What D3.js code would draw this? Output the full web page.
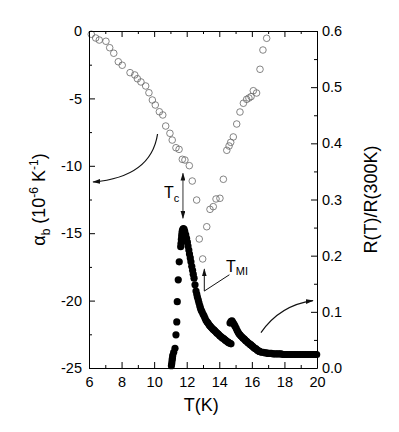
<!DOCTYPE html>
<html>
<head>
<meta charset="utf-8">
<script src="https://cdn.jsdelivr.net/npm/d3@7"></script>
<style>
  body { margin: 0; background: #fff; }
  text { font-family: "Liberation Sans", Arial, sans-serif; }
</style>
</head>
<body>
<script>
// thermal expansion alpha_b (open circles, left axis)
const alphaT = [6.14, 6.41, 6.63, 7.04, 7.27, 7.52, 7.80, 8.04, 8.52, 8.81, 8.97, 9.19, 9.48, 9.68, 9.89,
  10.07, 10.32, 10.53, 10.71, 10.97, 11.11, 11.34, 11.53, 11.73, 11.89, 12.16, 12.34, 12.61, 12.77, 12.98,
  13.23, 13.43, 13.63, 13.80, 14.04, 14.25, 14.46, 14.60, 14.70, 14.86, 15.07, 15.27, 15.48, 15.68, 15.82,
  15.95, 16.09, 16.29, 16.50, 16.68, 16.91];
const alphaVal = [-0.24, -0.52, -0.67, -0.76, -1.24, -1.65, -2.28, -2.54, -3.09, -3.26, -3.54, -3.78, -4.08, -4.58, -5.12,
  -5.49, -5.99, -6.23, -7.05, -7.59, -8.09, -8.66, -8.78, -9.52, -9.57, -9.99, -11.13, -12.54, -15.43, -16.91,
  -14.52, -13.23, -13.03, -12.46, -12.41, -11.00, -8.85, -8.53, -8.26, -7.86, -6.90, -6.01, -5.36, -5.07, -4.97,
  -4.87, -4.43, -4.60, -2.84, -1.41, -0.54];

// resistance R(T)/R(300K) (filled circles, right axis)
const resT = [11.06, 11.08, 11.10, 11.12, 11.14, 11.20, 11.28, 11.34, 11.39, 11.42, 11.48, 11.54, 11.63,
  11.65, 11.67, 11.69, 11.71, 11.73, 11.76, 11.80, 11.84, 11.88,
  11.94, 11.99, 12.04, 12.08, 12.13, 12.17, 12.22, 12.26, 12.31, 12.36, 12.40, 12.45, 12.51, 12.57, 12.62,
  12.66, 12.71, 12.75, 12.80, 12.84, 12.89, 12.94, 13.00, 13.06, 13.12, 13.18, 13.25, 13.31, 13.37, 13.43,
  13.49, 13.55, 13.61, 13.67, 13.73, 13.80, 13.86, 13.92, 13.98, 14.04, 14.10, 14.17, 14.23, 14.29, 14.35,
  14.41, 14.48, 14.54, 14.60, 14.66, 14.72,
  14.66, 14.72, 14.78, 14.84, 14.90, 14.96, 15.03, 15.09, 15.15, 15.21, 15.27, 15.33, 15.40, 15.46, 15.52,
  15.58, 15.64, 15.70, 15.76, 15.82, 15.89, 15.95, 16.01, 16.07, 16.13, 16.19, 16.26, 16.32, 16.38, 16.44,
  16.50, 16.60, 16.70, 16.80, 16.90, 17.00, 17.10, 17.20, 17.30, 17.40, 17.50, 17.60, 17.70, 17.80, 17.90,
  18.00, 18.10, 18.20, 18.30, 18.40, 18.50, 18.60, 18.70, 18.80, 18.90, 19.00, 19.10, 19.20, 19.30, 19.40,
  19.50, 19.60, 19.70, 19.80, 19.90, 19.98];
const resVal = [0.004, 0.008, 0.013, 0.017, 0.022, 0.028, 0.035, 0.059, 0.082, 0.118, 0.157, 0.189, 0.216,
  0.222, 0.229, 0.235, 0.240, 0.244, 0.247, 0.248, 0.247, 0.243,
  0.237, 0.231, 0.224, 0.217, 0.210, 0.203, 0.196, 0.189, 0.181, 0.174, 0.167, 0.160, 0.148, 0.137, 0.131,
  0.126, 0.121, 0.116, 0.111, 0.107, 0.103, 0.100, 0.096, 0.093, 0.089, 0.085, 0.082, 0.080, 0.077, 0.075,
  0.073, 0.071, 0.069, 0.068, 0.066, 0.064, 0.062, 0.061, 0.059, 0.057, 0.056, 0.054, 0.053, 0.052, 0.050,
  0.049, 0.047, 0.046, 0.045, 0.044, 0.043,
  0.080, 0.083, 0.084, 0.081, 0.078, 0.075, 0.071, 0.067, 0.064, 0.061, 0.059, 0.057, 0.055, 0.053, 0.052,
  0.050, 0.048, 0.047, 0.045, 0.044, 0.042, 0.041, 0.039, 0.038, 0.036, 0.035, 0.034, 0.032, 0.031, 0.030,
  0.029, 0.028, 0.028, 0.027, 0.027, 0.026, 0.026, 0.026, 0.025, 0.025, 0.025, 0.025, 0.025, 0.025, 0.024,
  0.024, 0.024, 0.024, 0.024, 0.024, 0.024, 0.024, 0.024, 0.024, 0.024, 0.024, 0.024, 0.024, 0.024, 0.024,
  0.024, 0.024, 0.024, 0.024, 0.024, 0.024];

// tick values
const xTicks = [6, 8, 10, 12, 14, 16, 18, 20];
const xMinor = [7, 9, 11, 13, 15, 17, 19];
const yLTicks = [0, -5, -10, -15, -20, -25];
const yLMinor = [-2.5, -7.5, -12.5, -17.5, -22.5];
const yRTicks = [0, 0.1, 0.2, 0.3, 0.4, 0.5, 0.6];
const yRMinor = [0.05, 0.15, 0.25, 0.35, 0.45, 0.55];

const width = 399, height = 432;
const margin = ({top: 31, right: 82, bottom: 64, left: 89});

const x = d3.scaleLinear().domain([6, 20]).range([margin.left, width - margin.right]);
const yL = d3.scaleLinear().domain([-25, 0]).range([height - margin.bottom, margin.top]);
const yR = d3.scaleLinear().domain([0, 0.6]).range([height - margin.bottom, margin.top]);

const svg = d3.select("body").append("svg")
    .attr("width", width)
    .attr("height", height);

const defs = svg.append("defs");
defs.append("marker")
    .attr("id", "head")
    .attr("viewBox", "0 0 10 6")
    .attr("refX", 9).attr("refY", 3)
    .attr("markerWidth", 8).attr("markerHeight", 5)
    .attr("markerUnits", "userSpaceOnUse")
    .attr("orient", "auto-start-reverse")
  .append("path")
    .attr("d", "M0,0L10,3L0,6Z")
    .attr("fill", "#111");

// data
svg.append("g")
  .selectAll("circle")
  .data(alphaT.map((t, i) => [t, alphaVal[i]]))
  .join("circle")
    .attr("cx", d => x(d[0]))
    .attr("cy", d => yL(d[1]))
    .attr("r", 3.3)
    .attr("fill", "none")
    .attr("stroke", "#666")
    .attr("stroke-width", 0.8);

svg.append("g")
  .selectAll("circle")
  .data(resT.map((t, i) => [t, resVal[i]]))
  .join("circle")
    .attr("cx", d => x(d[0]))
    .attr("cy", d => yR(d[1]))
    .attr("r", 3.6)
    .attr("fill", "#000");

// axes
const bottomY = height - margin.bottom;
const rightX = width - margin.right;

const axisStyle = g => g
    .call(g => g.select(".domain").attr("stroke", "#000"))
    .call(g => g.selectAll("text").attr("font-size", 14.5).attr("fill", "#000")
      .attr("font-family", "Liberation Sans, Arial, sans-serif"));

svg.append("g")
    .attr("transform", `translate(0,${bottomY})`)
    .call(d3.axisBottom(x).tickValues(xTicks).tickSize(-6).tickSizeOuter(0).tickPadding(9).tickFormat(d3.format("d")))
    .call(axisStyle);
svg.append("g")
    .attr("transform", `translate(0,${bottomY})`)
    .call(d3.axisBottom(x).tickValues(xMinor).tickSize(-3).tickFormat(""))
    .call(g => g.select(".domain").remove());

svg.append("g")
    .attr("transform", `translate(0,${margin.top})`)
    .call(d3.axisTop(x).tickValues(xTicks).tickSize(-6).tickSizeOuter(0).tickFormat(""))
    .call(axisStyle);
svg.append("g")
    .attr("transform", `translate(0,${margin.top})`)
    .call(d3.axisTop(x).tickValues(xMinor).tickSize(-3).tickFormat(""))
    .call(g => g.select(".domain").remove());

svg.append("g")
    .attr("transform", `translate(${margin.left},0)`)
    .call(d3.axisLeft(yL).tickValues(yLTicks).tickSize(-6).tickSizeOuter(0).tickPadding(7).tickFormat(d => String(d)))
    .call(axisStyle);
svg.append("g")
    .attr("transform", `translate(${margin.left},0)`)
    .call(d3.axisLeft(yL).tickValues(yLMinor).tickSize(-3).tickFormat(""))
    .call(g => g.select(".domain").remove());

svg.append("g")
    .attr("transform", `translate(${rightX},0)`)
    .call(d3.axisRight(yR).tickValues(yRTicks).tickSize(-6).tickSizeOuter(0).tickPadding(5).tickFormat(d3.format(".1f")))
    .call(axisStyle);
svg.append("g")
    .attr("transform", `translate(${rightX},0)`)
    .call(d3.axisRight(yR).tickValues(yRMinor).tickSize(-3).tickFormat(""))
    .call(g => g.select(".domain").remove());

// axis titles
svg.append("text")
    .attr("x", x(12.9))
    .attr("y", 411)
    .attr("text-anchor", "middle")
    .attr("font-size", 18)
    .text("T(K)");

const lt = svg.append("text")
    .attr("transform", `translate(45,${(margin.top + bottomY) / 2}) rotate(-90)`)
    .attr("text-anchor", "middle")
    .attr("font-size", 18);
lt.append("tspan").text("α");
lt.append("tspan").attr("font-size", 12).attr("dy", 5).text("b");
lt.append("tspan").attr("dy", -5).text(" (10");
lt.append("tspan").attr("font-size", 12).attr("dy", -7).text("-6");
lt.append("tspan").attr("dy", 7).text(" K");
lt.append("tspan").attr("font-size", 12).attr("dy", -7).text("-1");
lt.append("tspan").attr("dy", 7).text(")");

svg.append("text")
    .attr("transform", `translate(377,${(margin.top + bottomY) / 2}) rotate(-90)`)
    .attr("text-anchor", "middle")
    .attr("font-size", 18)
    .text("R(T)/R(300K)");

// annotations
const curve = d3.path();
curve.moveTo(x(10.21), yL(-7.64));
curve.quadraticCurveTo(x(9.81), yL(-10.83), x(6.25), yL(-11.2));
svg.append("path")
    .attr("d", curve.toString())
    .attr("fill", "none")
    .attr("stroke", "#111")
    .attr("stroke-width", 1.2)
    .attr("marker-end", "url(#head)");

const curve2 = d3.path();
curve2.moveTo(x(16.56), yR(0.063));
curve2.quadraticCurveTo(x(17.73), yR(0.112), x(19.75), yR(0.120));
svg.append("path")
    .attr("d", curve2.toString())
    .attr("fill", "none")
    .attr("stroke", "#111")
    .attr("stroke-width", 1.2)
    .attr("marker-end", "url(#head)");

// Tc double arrow
svg.append("line")
    .attr("x1", x(11.77)).attr("x2", x(11.77))
    .attr("y1", yL(-10.56)).attr("y2", yL(-13.89))
    .attr("stroke", "#333")
    .attr("stroke-width", 1)
    .attr("marker-start", "url(#head)")
    .attr("marker-end", "url(#head)");

const tc = svg.append("text")
    .attr("x", x(10.61))
    .attr("y", yL(-12.39))
    .attr("font-size", 16);
tc.append("tspan").text("T");
tc.append("tspan").attr("font-size", 11).attr("dy", 4).text("c");

// T_MI arrow and pointer
svg.append("line")
    .attr("x1", x(13.08)).attr("x2", x(13.08))
    .attr("y1", yR(0.137)).attr("y2", yR(0.176))
    .attr("stroke", "#111")
    .attr("stroke-width", 1)
    .attr("marker-end", "url(#head)");
svg.append("line")
    .attr("x1", x(13.08)).attr("x2", x(14.62))
    .attr("y1", yR(0.137)).attr("y2", yR(0.166))
    .attr("stroke", "#111")
    .attr("stroke-width", 1);

const tmi = svg.append("text")
    .attr("x", x(14.41))
    .attr("y", yR(0.171))
    .attr("font-size", 16);
tmi.append("tspan").text("T");
tmi.append("tspan").attr("font-size", 11).attr("dy", 3).text("MI");
</script>
</body>
</html>
